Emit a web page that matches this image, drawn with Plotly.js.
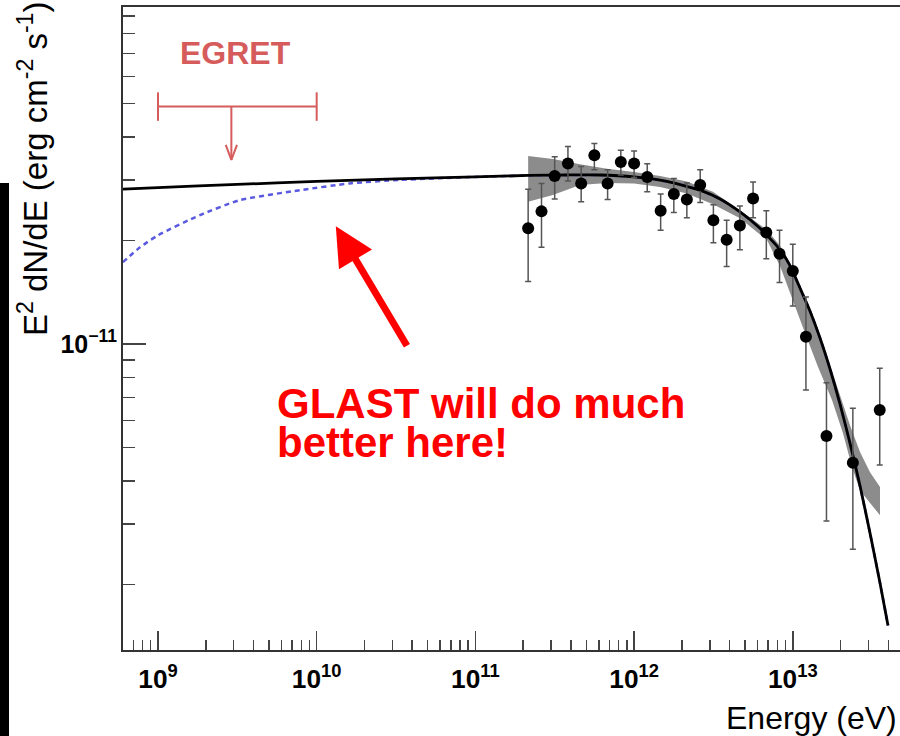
<!DOCTYPE html>
<html><head><meta charset="utf-8">
<script src="https://cdn.plot.ly/plotly-3.0.1.min.js"></script>
<style>html,body{margin:0;padding:0;overflow:hidden;background:#fff}</style>
</head><body>
<div id="chart" style="width:900px;height:736px"></div>
<script>
// Data points (energy in eV, E^2 dN/dE in erg cm^-2 s^-1)
const energy = [2.15e11, 2.61e11, 3.16e11, 3.83e11, 4.64e11, 5.62e11, 6.81e11, 8.25e11, 1.0e12, 1.21e12, 1.47e12, 1.78e12, 2.15e12, 2.61e12, 3.16e12, 3.83e12, 4.64e12, 5.62e12, 6.81e12, 8.25e12, 1.0e13, 1.21e13, 1.63e13, 2.39e13, 3.53e13];
const flux = [2.17e-11, 2.43e-11, 3.08e-11, 3.35e-11, 2.93e-11, 3.54e-11, 2.93e-11, 3.38e-11, 3.35e-11, 3.06e-11, 2.44e-11, 2.73e-11, 2.63e-11, 2.90e-11, 2.29e-11, 2.01e-11, 2.21e-11, 2.65e-11, 2.11e-11, 1.83e-11, 1.63e-11, 1.05e-11, 5.40e-12, 4.52e-12, 6.43e-12];
const fluxHi = [2.82e-11, 2.93e-11, 3.50e-11, 3.75e-11, 3.28e-11, 3.83e-11, 3.21e-11, 3.66e-11, 3.64e-11, 3.34e-11, 2.73e-11, 3.03e-11, 2.94e-11, 3.21e-11, 2.54e-11, 2.29e-11, 2.52e-11, 2.96e-11, 2.44e-11, 2.14e-11, 1.95e-11, 1.37e-11, 7.72e-12, 6.50e-12, 8.50e-12];
const fluxLo = [1.52e-11, 1.91e-11, 2.64e-11, 2.98e-11, 2.59e-11, 3.21e-11, 2.63e-11, 3.10e-11, 3.05e-11, 2.77e-11, 2.14e-11, 2.41e-11, 2.33e-11, 2.58e-11, 1.97e-11, 1.68e-11, 1.88e-11, 2.33e-11, 1.77e-11, 1.51e-11, 1.29e-11, 7.35e-12, 3.06e-12, 2.53e-12, 4.45e-12];

// solid black model curve
const modelE = [6.02e8, 1e9, 3.15e9, 1.0e10, 3.16e10, 9.94e10, 2.15e11, 3.78e11, 6.10e11, 9.99e11, 1.61e12, 2.60e12, 3.48e12, 4.65e12, 6.21e12, 8.31e12, 9.60e12, 1.11e13, 1.283e13, 1.484e13, 1.716e13, 1.984e13, 2.293e13, 2.652e13, 3.066e13, 3.544e13, 3.98e13];
const modelF = [2.82e-11, 2.85e-11, 2.91e-11, 2.97e-11, 3.02e-11, 3.06e-11, 3.09e-11, 3.10e-11, 3.10e-11, 3.06e-11, 2.97e-11, 2.80e-11, 2.64e-11, 2.42e-11, 2.17e-11, 1.88e-11, 1.69e-11, 1.455e-11, 1.247e-11, 1.041e-11, 8.46e-12, 6.69e-12, 5.15e-12, 3.87e-12, 2.82e-12, 2.02e-12, 1.52e-12];

// blue dashed model curve
const altE = [6.02e8, 7.70e8, 1e9, 1.84e9, 3.29e9, 7.85e9, 1.62e10, 3.35e10, 9.94e10, 2.15e11, 3.78e11, 6.10e11, 9.99e11, 1.61e12, 2.60e12, 3.48e12, 4.65e12, 6.21e12, 8.31e12, 9.60e12, 1.11e13, 1.283e13, 1.484e13, 1.716e13, 1.984e13, 2.293e13, 2.652e13, 3.066e13, 3.544e13, 3.98e13];
const altF = [1.73e-11, 1.91e-11, 2.07e-11, 2.37e-11, 2.62e-11, 2.80e-11, 2.93e-11, 3.00e-11, 3.06e-11, 3.09e-11, 3.10e-11, 3.10e-11, 3.06e-11, 2.97e-11, 2.80e-11, 2.64e-11, 2.42e-11, 2.17e-11, 1.88e-11, 1.69e-11, 1.455e-11, 1.247e-11, 1.041e-11, 8.46e-12, 6.69e-12, 5.15e-12, 3.87e-12, 2.82e-12, 2.02e-12, 1.52e-12];

// grey error band (butterfly)
const bandUpE = [2.15e11, 3.08e11, 4.56e11, 6.75e11, 9.99e11, 1.46e12, 2.15e12, 3.14e12, 4.65e12, 6.88e12, 8.31e12, 9.60e12, 1.11e13, 1.283e13, 1.484e13, 1.716e13, 1.984e13, 2.293e13, 2.652e13, 3.066e13, 3.544e13];
const bandUpF = [3.52e-11, 3.45e-11, 3.33e-11, 3.23e-11, 3.16e-11, 3.08e-11, 2.97e-11, 2.77e-11, 2.45e-11, 2.145e-11, 1.93e-11, 1.72e-11, 1.48e-11, 1.27e-11, 1.062e-11, 8.69e-12, 7.01e-12, 5.81e-12, 4.85e-12, 4.24e-12, 3.84e-12];
const bandLoE = [2.15e11, 3.08e11, 4.56e11, 6.75e11, 9.99e11, 1.46e12, 2.15e12, 3.14e12, 4.65e12, 6.88e12, 8.31e12, 1.003e13, 1.194e13, 1.442e13, 1.766e13, 2.07e13, 2.36e13, 2.652e13, 3.066e13, 3.544e13];
const bandLoF = [2.59e-11, 2.71e-11, 2.90e-11, 2.94e-11, 2.93e-11, 2.86e-11, 2.74e-11, 2.55e-11, 2.32e-11, 2.005e-11, 1.685e-11, 1.342e-11, 1.076e-11, 8.57e-12, 6.87e-12, 5.51e-12, 4.39e-12, 3.76e-12, 3.45e-12, 3.18e-12];

// EGRET upper limit
const egretE = [1e9, 1e10];
const egretArrowE = 2.9e9;
const egretUL = 4.9e-11;
const egretTip = 3.43e-11;

const RED = '#d65c5c';
const FONT = 'Liberation Sans, Arial, Helvetica, sans-serif';

const traces = [
  { x: bandUpE.concat(bandLoE.slice().reverse()), y: bandUpF.concat(bandLoF.slice().reverse()),
    mode: 'lines', fill: 'toself', fillcolor: '#8c8c8c', line: {width: 0, color: '#8c8c8c'}, hoverinfo: 'skip' },
  { x: altE, y: altF, mode: 'lines', line: {color: '#5a5ae0', width: 2.5, dash: '5px,4px', shape: 'spline', smoothing: 0.6} },
  { x: modelE, y: modelF, mode: 'lines', line: {color: '#000000', width: 2.8, shape: 'spline', smoothing: 0.6} },
  { x: energy, y: flux, mode: 'markers', marker: {color: '#000', size: 12},
    error_y: {type: 'data', symmetric: false,
      array: fluxHi.map((h, i) => h - flux[i]),
      arrayminus: flux.map((f, i) => f - fluxLo[i]),
      color: '#555', thickness: 1.5, width: 3} },
  // EGRET upper limit bar, caps and arrow
  { x: egretE, y: [egretUL, egretUL], mode: 'lines', line: {color: RED, width: 2} },
  { x: [egretE[0], egretE[0], null, egretE[1], egretE[1]],
    y: [egretUL / 1.1, egretUL * 1.1, null, egretUL / 1.1, egretUL * 1.1],
    mode: 'lines', line: {color: RED, width: 2} },
  { x: [egretArrowE, egretArrowE], y: [egretUL, egretTip], mode: 'lines', line: {color: RED, width: 2} },
  { x: [egretArrowE / 1.085, egretArrowE, egretArrowE * 1.085], y: [egretTip * 1.105, egretTip, egretTip * 1.105],
    mode: 'lines', line: {color: RED, width: 2} }
];

const layout = {
  width: 900, height: 736,
  margin: {l: 123, r: 0, t: 7, b: 86},
  paper_bgcolor: '#fff', plot_bgcolor: '#fff',
  showlegend: false,
  font: {family: FONT, color: '#000'},
  xaxis: {
    type: 'log', range: [Math.log10(6.02e8), 13.6755],
    showgrid: false, zeroline: false,
    showline: true, mirror: true, linecolor: '#333', linewidth: 2,
    ticks: 'inside', ticklen: 19, tickwidth: 1.5, tickcolor: '#444',
    dtick: 1, exponentformat: 'power', showexponent: 'all',
    minor: {ticks: 'inside', ticklen: 10, tickwidth: 1.5, tickcolor: '#444', dtick: 'D1', showgrid: false},
    tickfont: {family: FONT, size: 21, weight: 'bold', color: '#000'},
    ticklabelstandoff: 6
  },
  yaxis: {
    type: 'log', range: [-11.8895, -10.0203],
    showgrid: false, zeroline: false,
    showline: true, mirror: false, linecolor: '#333', linewidth: 2,
    ticks: 'inside', ticklen: 23, tickwidth: 1.5, tickcolor: '#444',
    dtick: 1, exponentformat: 'power', showexponent: 'all',
    minor: {ticks: 'inside', ticklen: 12, tickwidth: 1.5, tickcolor: '#444', dtick: 'D1', showgrid: false},
    tickfont: {family: FONT, size: 20, weight: 'bold', color: '#000'}
  },
  shapes: [
    {type: 'rect', xref: 'paper', yref: 'paper', x0: -0.1583, x1: -0.1467, y0: -0.14, y1: 0.7263,
     fillcolor: '#000', line: {width: 0}}
  ],
  annotations: [
    {xref: 'paper', yref: 'paper', x: -0.1158, y: 0.748, xanchor: 'center', yanchor: 'middle',
     textangle: -90, showarrow: false,
     text: 'E<sup>2</sup> dN/dE (erg cm<sup>-2</sup> s<sup>-1</sup>)', font: {family: FONT, size: 33, color: '#000'}},
    {xref: 'paper', yref: 'paper', x: 1, y: -0.1058, xanchor: 'right', yanchor: 'middle', xshift: -1,
     showarrow: false, text: 'Energy (eV)', font: {family: FONT, size: 32, color: '#000'}},
    {xref: 'x', yref: 'y', x: Math.log10(egretArrowE * 1.06), y: Math.log10(7.0e-11), xanchor: 'center', yanchor: 'middle',
     showarrow: false, text: 'EGRET', font: {family: FONT, size: 32, weight: 'bold', color: RED}},
    {xref: 'paper', yref: 'paper', x: 0.1956, y: 0.3835, xanchor: 'left', yanchor: 'middle', height: 36,
     showarrow: false, text: 'GLAST will do much', font: {family: FONT, size: 42, weight: 'bold', color: '#ff0000'}},
    {xref: 'paper', yref: 'paper', x: 0.1956, y: 0.3235, xanchor: 'left', yanchor: 'middle', height: 36,
     showarrow: false, text: 'better here!', font: {family: FONT, size: 42, weight: 'bold', color: '#ff0000'}},
    {xref: 'x', yref: 'y', x: Math.log10(1.32e10), y: Math.log10(2.2e-11), text: '',
     showarrow: true, ax: 72, ay: 121, arrowcolor: '#ff0000', arrowwidth: 7, arrowhead: 2, arrowsize: 1.1}
  ]
};

Plotly.newPlot('chart', traces, layout, {displayModeBar: false, staticPlot: true});
</script>
</body></html>
